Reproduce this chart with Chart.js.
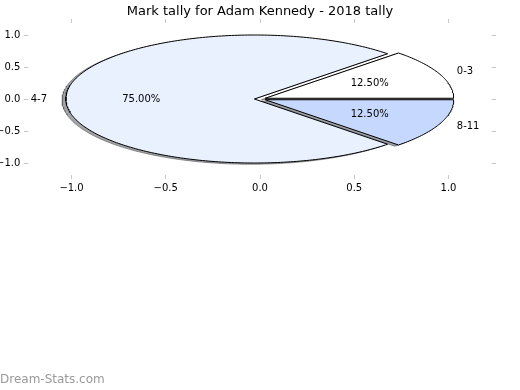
<!DOCTYPE html>
<html lang="en">
<head>
  <meta charset="utf-8" />
  <title>Mark tally</title>
  <style>
html, body { margin: 0; padding: 0; background: #fff; }
#chartContainer {
  position: relative;
  width: 520px;
  height: 390px;
}
  </style>
</head>
<body>
  <div id="chartContainer">
    <canvas id="myChart"></canvas>
  </div>
  <script src="https://cdn.jsdelivr.net/npm/chart.js"></script>
  <script>

const titleText = 'Mark tally for Adam Kennedy - 2018 tally';
const sliceLabels = ['0-3', '4-7', '8-11'];
const sliceCounts = [1, 6, 1];
const sliceColors = ['#ffffff', '#eaf1fe', '#c6d8fd'];
const sliceExplode = [0.03, 0.03, 0.03];
const xTicks = [-1.0, -0.5, 0.0, 0.5, 1.0];
const yTicks = [1.0, 0.5, 0.0, -0.5, -1.0];
const watermark = 'Dream-Stats.com';

Chart.defaults.font.family = '"DejaVu Sans", sans-serif';
Chart.defaults.font.size = 10;
Chart.defaults.color = '#000';

// pie geometry (matplotlib style: start at 0 deg, counter clockwise)
const total = sliceCounts.reduce((a, b) => a + b, 0);
const slices = [];
let startDeg = 0;
sliceCounts.forEach((c, i) => {
  const endDeg = startDeg + c / total * 360;
  const mid = (startDeg + endDeg) / 2 * Math.PI / 180;
  slices.push({
    a1: startDeg, a2: endDeg, mid: mid,
    ox: sliceExplode[i] * Math.cos(mid),
    oy: sliceExplode[i] * Math.sin(mid)
  });
  startDeg = endDeg;
});

function wedgePoints(s, dx, dy) {
  const pts = [{x: s.ox + dx, y: s.oy + dy}];
  const n = Math.ceil(s.a2 - s.a1);
  for (let k = 0; k <= n; k++) {
    const a = (s.a1 + (s.a2 - s.a1) * k / n) * Math.PI / 180;
    pts.push({x: s.ox + dx + Math.cos(a), y: s.oy + dy + Math.sin(a)});
  }
  pts.push({x: s.ox + dx, y: s.oy + dy});
  return pts;
}

function shadowColor(hex) {
  const r = parseInt(hex.substr(1, 2), 16) * 0.3;
  const g = parseInt(hex.substr(3, 2), 16) * 0.3;
  const b = parseInt(hex.substr(5, 2), 16) * 0.3;
  return 'rgba(' + r + ',' + g + ',' + b + ',0.5)';
}

const datasets = [];
slices.forEach((s, i) => {
  datasets.push({
    label: sliceLabels[i] + ' shadow',
    data: wedgePoints(s, -0.02, -0.02),
    order: 2,
    fill: 'shape',
    backgroundColor: shadowColor(sliceColors[i]),
    borderColor: shadowColor(sliceColors[i]),
    borderWidth: 1,
    pointRadius: 0,
    tension: 0
  });
});
slices.forEach((s, i) => {
  datasets.push({
    label: sliceLabels[i],
    data: wedgePoints(s, 0, 0),
    order: 1,
    fill: 'shape',
    backgroundColor: sliceColors[i],
    borderColor: '#000',
    borderWidth: 1,
    borderJoinStyle: 'miter',
    pointRadius: 0,
    tension: 0
  });
});

const fmt = v => v.toFixed(1).replace('-', '\u2212');
const gridOpts = {
  display: true,
  drawOnChartArea: false,
  drawTicks: true,
  tickLength: -4,
  color: '#c8c8c8',
  lineWidth: 1
};

const labelPlugin = {
  id: 'pieLabels',
  afterDatasetsDraw(chart) {
    const ctx = chart.ctx;
    const xs = chart.scales.x, ys = chart.scales.y;
    ctx.save();
    ctx.font = '10px "DejaVu Sans"';
    ctx.fillStyle = '#000';
    ctx.textBaseline = 'middle';
    slices.forEach((s, i) => {
      const c = Math.cos(s.mid), sn = Math.sin(s.mid);
      // percent text
      ctx.textAlign = 'center';
      const pct = (sliceCounts[i] / total * 100).toFixed(2) + '%';
      ctx.fillText(pct, xs.getPixelForValue(s.ox + 0.6 * c), ys.getPixelForValue(s.oy + 0.6 * sn));
      // category text
      const lx = s.ox + 1.1 * c;
      ctx.textAlign = lx > 0 ? 'left' : 'right';
      ctx.fillText(sliceLabels[i], xs.getPixelForValue(lx), ys.getPixelForValue(s.oy + 1.1 * sn));
    });
    ctx.restore();
  },
  afterDraw(chart) {
    const ctx = chart.ctx;
    ctx.save();
    ctx.font = '12px "DejaVu Sans"';
    ctx.fillStyle = '#9a9a9a';
    ctx.textAlign = 'left';
    ctx.textBaseline = 'middle';
    ctx.fillText(watermark, 0, 380);
    ctx.restore();
  }
};

const config = {
  type: 'line',
  data: { datasets: datasets },
  options: {
    responsive: true,
    maintainAspectRatio: false,
    animation: false,
    events: [],
    layout: { padding: 0 },
    plugins: {
      legend: { display: false },
      tooltip: { enabled: false },
      title: {
        display: true,
        text: titleText,
        color: '#000',
        font: { size: 13, weight: 'normal' },
        padding: { top: 3.4, bottom: 0 }
      }
    },
    scales: {
      x: {
        type: 'linear', position: 'bottom', min: -1.25, max: 1.25,
        grid: gridOpts, border: { display: false },
        ticks: { padding: 7, maxRotation: 0, callback: v => fmt(v) },
        afterBuildTicks: s => { s.ticks = xTicks.map(v => ({value: v})); },
        afterFit: s => { s.height = 211; }
      },
      x2: {
        type: 'linear', position: 'top', min: -1.25, max: 1.25,
        grid: gridOpts, border: { display: false },
        ticks: { display: false },
        afterBuildTicks: s => { s.ticks = xTicks.map(v => ({value: v})); },
        afterFit: s => { s.height = 0; }
      },
      y: {
        type: 'linear', position: 'left', min: -1.25, max: 1.25,
        grid: gridOpts, border: { display: false },
        ticks: { padding: 8, callback: v => fmt(v) },
        afterBuildTicks: s => { s.ticks = yTicks.map(v => ({value: v})); },
        afterFit: s => { s.width = 24.4; }
      },
      y2: {
        type: 'linear', position: 'right', min: -1.25, max: 1.25,
        grid: gridOpts, border: { display: false },
        ticks: { display: false },
        afterBuildTicks: s => { s.ticks = yTicks.map(v => ({value: v})); },
        afterFit: s => { s.width = 24.4; }
      }
    }
  },
  plugins: [labelPlugin]
};

const chart = new Chart(document.getElementById('myChart'), config);

  </script>
</body>
</html>
